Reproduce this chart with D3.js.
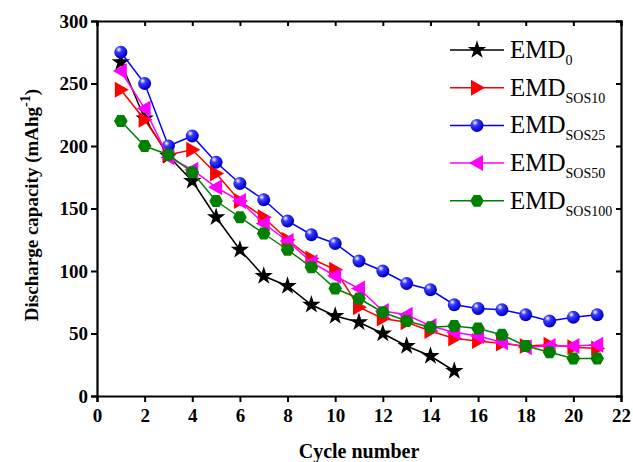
<!DOCTYPE html>
<html>
<head>
<meta charset="utf-8">
<script src="https://cdn.jsdelivr.net/npm/d3@7"></script>
<style>
body { margin: 0; background: #fff; }
text { font-family: "Liberation Serif", "Times New Roman", serif; }
</style>
</head>
<body>
<svg></svg>
<script>
const svgWidth = 633
const svgHeight = 462
const margins = {top: 21, bottom: 66, left: 97, right: 12}
const plotWidth = svgWidth - margins.left - margins.right
const plotHeight = svgHeight - margins.top - margins.bottom

// data
const cyclesLong = [1,2,3,4,5,6,7,8,9,10,11,12,13,14,15,16,17,18,19,20,21]
const cyclesShort = [1,2,3,4,5,6,7,8,9,10,11,12,13,14,15]
const emd0 = [267,222,192,172,143,117,96,88,73,64,59,50,40,32,20]
const sos10 = [245,221,193,197,178,156,143,125,110,101,71,62,59,52,46,44,42,40,41,39,38]
const sos25 = [275,250,200,208,187,170,157,140,129,122,108,100,90,85,73,70,69,65,60,63,65]
const sos50 = [260,230,191,181,167,156,138,124,107,96,86,68,65,56,51,48,43,39,40,40,41]
const sos100 = [220,200,193,179,156,143,130,117,103,86,78,67,60,55,56,54,49,40,35,30,30]
const xTicks = [0,2,4,6,8,10,12,14,16,18,20,22]
const yTicks = [0,50,100,150,200,250,300]

const seriesList = [
  {name: "0", x: cyclesShort, y: emd0, color: "#000000", shape: "star"},
  {name: "SOS10", x: cyclesLong, y: sos10, color: "#ff0000", shape: "right"},
  {name: "SOS25", x: cyclesLong, y: sos25, color: "#0000ff", shape: "ball"},
  {name: "SOS50", x: cyclesLong, y: sos50, color: "#ff00ff", shape: "left"},
  {name: "SOS100", x: cyclesLong, y: sos100, color: "#008000", shape: "hex"}
]

const svg = d3.select("svg")
  .attr("width", svgWidth)
  .attr("height", svgHeight)

const defs = svg.append("defs")
const grad = defs.append("radialGradient")
  .attr("id", "ball")
  .attr("cx", "35%").attr("cy", "30%").attr("r", "65%")
grad.append("stop").attr("offset", "0%").attr("stop-color", "#ffffff")
grad.append("stop").attr("offset", "35%").attr("stop-color", "#3a3aff")
grad.append("stop").attr("offset", "100%").attr("stop-color", "#0000c8")

const xScale = d3.scaleLinear().domain([0, 22]).range([0, plotWidth])
const yScale = d3.scaleLinear().domain([0, 300]).range([plotHeight, 0])

const plot = svg.append("g").attr("transform", `translate(${margins.left},${margins.top})`)

// axes: major + minor ticks, outward on bottom/left, inward on top/right
function drawAxes() {
  const minorX = d3.range(0, 23, 1)
  const minorY = d3.range(0, 301, 25)

  const bottom = plot.append("g").attr("transform", `translate(0,${plotHeight})`)
  bottom.call(d3.axisBottom(xScale).tickValues(minorX).tickSize(4).tickFormat(""))
  bottom.call(d3.axisBottom(xScale).tickValues(xTicks).tickSize(6).tickPadding(7).tickFormat(d3.format("d")))

  const left = plot.append("g")
  left.call(d3.axisLeft(yScale).tickValues(minorY).tickSize(4).tickFormat(""))
  left.call(d3.axisLeft(yScale).tickValues(yTicks).tickSize(6).tickPadding(3).tickFormat(d3.format("d")))

  const top = plot.append("g")
  top.call(d3.axisBottom(xScale).tickValues(minorX).tickSize(3).tickFormat(""))
  top.call(d3.axisBottom(xScale).tickValues(xTicks).tickSize(5).tickFormat(""))

  const right = plot.append("g").attr("transform", `translate(${plotWidth},0)`)
  right.call(d3.axisLeft(yScale).tickValues(minorY).tickSize(3).tickFormat(""))
  right.call(d3.axisLeft(yScale).tickValues(yTicks).tickSize(5).tickFormat(""))

  plot.selectAll(".domain").attr("stroke", "#000").attr("stroke-width", 2.2)
  plot.selectAll(".tick line").attr("stroke", "#000").attr("stroke-width", 2)
  plot.selectAll(".tick text")
    .attr("fill", "#000")
    .style("font-size", "19px")
    .style("font-weight", "bold")
    .style("font-family", "Liberation Serif, serif")
}
drawAxes()

function drawMarker(g, shape, color) {
  if (shape === "star") {
    g.append("path").attr("d", d3.symbol(d3.symbolStar, 105)()).attr("fill", color)
  } else if (shape === "right") {
    g.append("path").attr("d", "M-6,-8L8,0L-6,8Z").attr("fill", color)
  } else if (shape === "left") {
    g.append("path").attr("d", "M6,-8L-8,0L6,8Z").attr("fill", color)
  } else if (shape === "ball") {
    g.append("circle").attr("r", 6.5).attr("fill", "url(#ball)")
  } else if (shape === "hex") {
    const pts = d3.range(6).map(i => {
      const a = Math.PI / 3 * i
      return [6.8 * Math.cos(a), 6.8 * Math.sin(a)]
    })
    g.append("path").attr("d", "M" + pts.join("L") + "Z").attr("fill", color)
  }
}

const line = d3.line().x(d => xScale(d[0])).y(d => yScale(d[1]))

seriesList.forEach(s => {
  const pts = s.x.map((x, i) => [x, s.y[i]])
  const g = plot.append("g")
  g.append("path")
    .datum(pts)
    .attr("d", line)
    .attr("fill", "none")
    .attr("stroke", s.color)
    .attr("stroke-width", 1.5)
  g.selectAll("g.pt")
    .data(pts)
    .enter()
    .append("g")
    .attr("class", "pt")
    .attr("transform", d => `translate(${xScale(d[0])},${yScale(d[1])})`)
    .each(function() { drawMarker(d3.select(this), s.shape, s.color) })
})

// legend
const legend = svg.append("g").attr("transform", "translate(450,50)")
seriesList.forEach((s, i) => {
  const row = legend.append("g").attr("transform", `translate(0,${i * 37.7})`)
  row.append("line").attr("x1", 0).attr("x2", 54).attr("y1", 0).attr("y2", 0)
    .attr("stroke", s.color).attr("stroke-width", 1.5)
  const m = row.append("g").attr("transform", "translate(27,0)")
  drawMarker(m, s.shape, s.color)
  const t = row.append("text").attr("x", 60).attr("y", 8)
    .style("font-size", "25px").attr("fill", "#000")
  t.append("tspan").text("EMD")
  t.append("tspan").attr("dy", 7).style("font-size", "14px").text(s.name)
})

// axis titles
svg.append("text")
  .attr("x", margins.left + plotWidth / 2)
  .attr("y", 458)
  .attr("text-anchor", "middle")
  .style("font-size", "20px")
  .style("font-weight", "bold")
  .text("Cycle number")

const yt = svg.append("text")
  .attr("transform", `translate(38,${205}) rotate(-90)`)
  .attr("text-anchor", "middle")
  .style("font-size", "19px")
  .style("font-weight", "bold")
yt.append("tspan").text("Discharge capacity (mAhg")
yt.append("tspan").attr("dy", -8).style("font-size", "14px").text("-1")
yt.append("tspan").attr("dy", 8).text(")")
</script>
</body>
</html>
